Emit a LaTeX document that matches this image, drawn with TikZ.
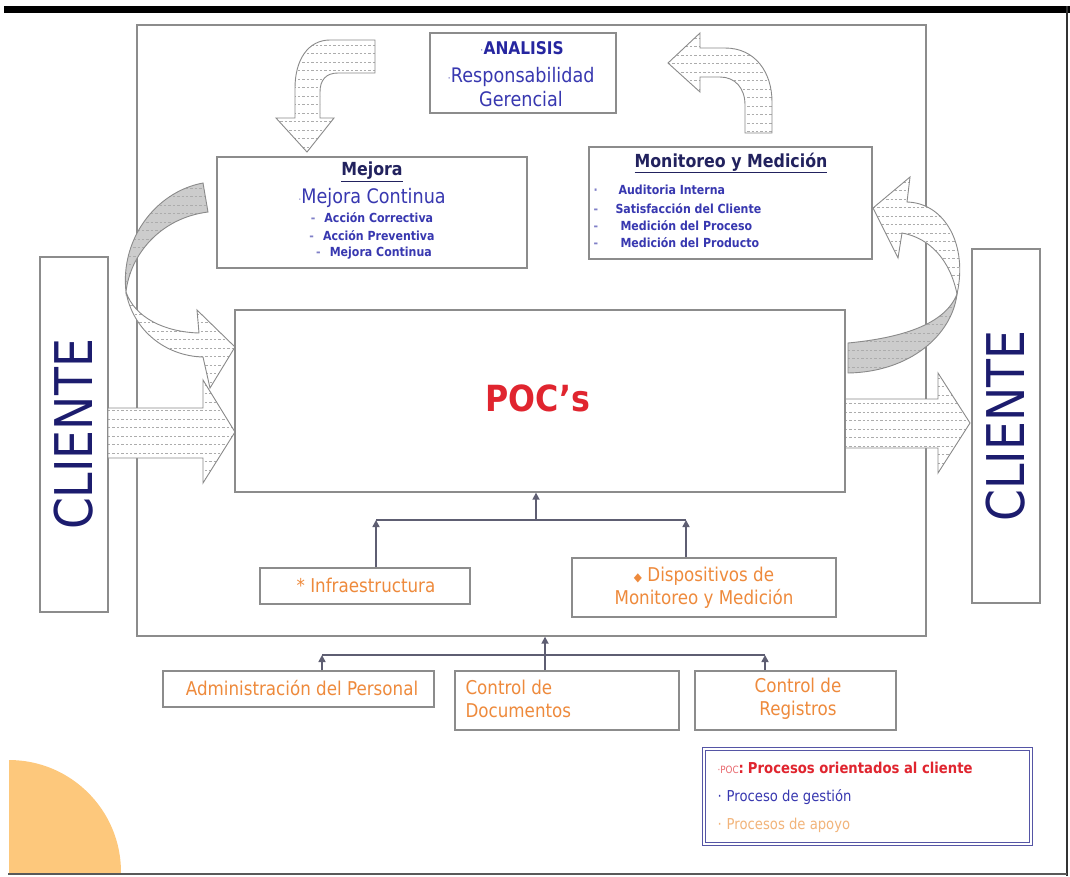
\documentclass[tikz,border=0pt]{standalone}
\usepackage{fontspec}
\setmainfont{DejaVu Sans}[FakeStretch=0.88]
\usetikzlibrary{arrows.meta}

\definecolor{boxgray}{HTML}{8C8C8C}
\definecolor{conngray}{HTML}{5E5E72}
\definecolor{arrowedge}{HTML}{8A8A8A}
\definecolor{navy}{HTML}{1C1C6E}
\definecolor{titlenavy}{HTML}{22225E}
\definecolor{blueA}{HTML}{2626A0}
\definecolor{blueB}{HTML}{3838B0}
\definecolor{bulletblue}{HTML}{8080C8}
\definecolor{pocred}{HTML}{E0252F}
\definecolor{supporange}{HTML}{EE8A3C}
\definecolor{lightorange}{HTML}{F2B47A}
\definecolor{blob}{HTML}{FDC87C}
\definecolor{legendblue}{HTML}{5555A5}

\begin{document}
\begin{tikzpicture}[x=1pt,y=-1pt,
  box/.style={draw=boxgray, line width=1.3pt, fill=white, inner sep=0pt},
  link/.style={draw=conngray, line width=1.6pt},
  conn/.style={link, -{Triangle[length=7pt,width=7pt]}},
  hatchline/.style={draw=gray!65, line width=0.75pt, dash pattern=on 2.4pt off 2pt},
  hatch/.style={fill=#1, draw=arrowedge, line width=0.9pt,
    path picture={\foreach \k in {0,...,30}{
      \draw[hatchline] ([yshift=-\k*8.5pt-5pt]path picture bounding box.north west)
        -- ([yshift=-\k*8.5pt-5pt]path picture bounding box.north east);}}},
  hatch/.default=white,
  orangetxt/.style={text=supporange, font=\fontsize{19}{23}\selectfont},
  subitem/.style={text=blueB, font=\bfseries\fontsize{12.5}{14}\selectfont}
]
\useasboundingbox (0,0) rectangle (1070,876);

% page frame and corner decoration
\begin{scope}
  \clip (9,0) rectangle (1066,873);
  \fill[blob] (9,872) circle (112pt);
\end{scope}
\fill[black] (4,6) rectangle (1070,13);
\draw[black!80, line width=1.5pt] (1067,6) -- (1067,876);
\draw[black!65, line width=1.5pt] (8,874) -- (1067,874);

% organisation boundary
\node[box] (org) at (531.5,330.5) [minimum width=789pt, minimum height=611pt] {};

% clients
\node[box] (clil) at (74,434.5) [minimum width=68pt, minimum height=355pt] {};
\node[box] (clir) at (1006,426) [minimum width=68pt, minimum height=354pt] {};
\node[rotate=90, text=navy, font=\fontsize{52}{52}\selectfont] (clilT) at (clil.center) {CLIENTE};
\node[rotate=90, text=navy, font=\fontsize{52}{52}\selectfont] (clirT) at (clir.center) {CLIENTE};

% block arrows: client in, client out
\path[hatch] (108,408) -- (203,408) -- (203,380) -- (235,432) -- (203,483) -- (203,458) -- (108,458) -- cycle;
\path[hatch] (845,399) -- (938,399) -- (938,373) -- (970,423) -- (938,473) -- (938,448) -- (845,448) -- cycle;

% curved arrow from Mejora down to the processes
\path[hatch=gray!40] (203,183) .. controls (155,192) and (120,240) .. (126,292)
   .. controls (130,255) and (160,218) .. (208,212) -- cycle;
\path[hatch] (126,292) .. controls (133,330) and (165,356) .. (203,357)
   -- (210,388) -- (235,347) -- (197,310) -- (199,333)
   .. controls (165,332) and (135,318) .. (126,292) -- cycle;

% curved arrow from the processes up to Monitoreo
\path[hatch=gray!40] (848,343) .. controls (900,338) and (945,325) .. (957,294)
   .. controls (952,335) and (910,372) .. (848,373) -- cycle;
\path[hatch] (957,294) .. controls (968,245) and (945,203) .. (907,202)
   -- (910,177) -- (873,208) -- (898,258) -- (902,233)
   .. controls (930,238) and (950,260) .. (957,294) -- cycle;

% top arrows around the management box
\path[hatch] (375,40) -- (330,40) .. controls (308,40) and (295,60) .. (295,88) -- (295,118)
   -- (276,118) -- (307,152) -- (334,118) -- (320,118) -- (320,92)
   .. controls (320,80) and (326,73) .. (338,73) -- (375,73) -- cycle;
\path[hatch] (668,63) -- (700,33) -- (700,48) -- (725,48)
   .. controls (755,48) and (772,72) .. (772,102) -- (772,133) -- (745,133) -- (745,105)
   .. controls (745,88) and (735,77) .. (720,77) -- (700,77) -- (700,92) -- cycle;

% management
\node[box] (analisis) at (523,73) [minimum width=186pt, minimum height=80pt] {};
\node[text=blueA, font=\bfseries\fontsize{17.5}{20}\selectfont] (analisisT) at (522,48)
  {{\color{bulletblue}\mdseries\fontsize{12}{12}\selectfont·}ANALISIS};
\node[text=blueB, font=\fontsize{20}{24}\selectfont, align=center] (respT) at (521,87)
  {{\color{bulletblue}\fontsize{12}{12}\selectfont·}Responsabilidad\\Gerencial};

% improvement
\node[box] (mejora) at (372,212.5) [minimum width=310pt, minimum height=111pt] {};
\node[text=titlenavy, font=\bfseries\fontsize{18}{20}\selectfont] (mejoraT) at (372,172) {\underline{Mejora}};
\node[text=blueB, font=\fontsize{20}{22}\selectfont] (mejoraA) at (372,198)
  {{\color{bulletblue}\fontsize{11}{11}\selectfont·}Mejora Continua};
\node[subitem] (mejoraB) at (372,218) {{\color{bulletblue}-}\hspace{9pt}Acción Correctiva};
\node[subitem] (mejoraC) at (372,236) {{\color{bulletblue}-}\hspace{9pt}Acción Preventiva};
\node[subitem] (mejoraD) at (374,253) {{\color{bulletblue}-}\hspace{9pt}Mejora Continua};

% monitoring and measurement
\node[box] (monit) at (730.5,203) [minimum width=283pt, minimum height=112pt] {};
\node[text=titlenavy, font=\bfseries\fontsize{18}{20}\selectfont] (monitT) at (731,163) {\underline{Monitoreo y Medición}};
\node[subitem, anchor=west] (monitA) at (590,190) {\makebox[25pt][l]{\color{bulletblue}·}Auditoria Interna};
\node[subitem, anchor=west] (monitB) at (590,209) {\makebox[22pt][l]{\color{bulletblue}-}Satisfacción del Cliente};
\node[subitem, anchor=west] (monitC) at (590,226) {\makebox[27pt][l]{\color{bulletblue}-}Medición del Proceso};
\node[subitem, anchor=west] (monitD) at (590,243) {\makebox[27pt][l]{\color{bulletblue}-}Medición del Producto};

% customer oriented processes
\node[box] (poc) at (540,401) [minimum width=610pt, minimum height=182pt] {};
\node[text=pocred, font=\bfseries\fontsize{36}{40}\selectfont] (pocT) at (538,398) {POC’s};

% support processes inside the organisation
\node[box] (infra) at (365,586) [minimum width=210pt, minimum height=36pt] {};
\node[orangetxt] (infraT) at (366,585) {* Infraestructura};
\node[box] (disp) at (704,587.5) [minimum width=264pt, minimum height=59pt] {};
\node[orangetxt, align=center] (dispT) at (704,588)
  {{\fontsize{12}{12}\selectfont◆} Dispositivos de\\Monitoreo y Medición};

\coordinate (jl) at (376,520);
\coordinate (jr) at (686,520);
\coordinate (jm) at (536,520);
\draw[conn] ([xshift=11pt]infra.north) -- (jl);
\draw[conn] ([xshift=-18pt]disp.north) -- (jr);
\draw[link] (jl) -- (jr);
\draw[conn] (jm) -- ([xshift=-4pt]poc.south);

% support processes outside
\node[box] (admin) at (298.5,689) [minimum width=271pt, minimum height=36pt] {};
\node[orangetxt] (adminT) at (302,688) {Administración del Personal};
\node[box] (docs) at (567,700.5) [minimum width=224pt, minimum height=59pt] {};
\node[orangetxt, align=left, anchor=west] (docsT) at (462,699) {Control de\\Documentos};
\node[box] (regs) at (795.5,700.5) [minimum width=201pt, minimum height=59pt] {};
\node[orangetxt, align=center] (regsT) at (798,699) {Control de\\Registros};

\coordinate (kl) at (322,655);
\coordinate (kr) at (765,655);
\draw[conn] ([xshift=23.5pt]admin.north) -- (kl);
\draw[conn] ([xshift=-30.5pt]regs.north) -- (kr);
\draw[link] (kl) -- (kr);
\draw[conn] ([xshift=-22pt]docs.north) -- ([xshift=13.5pt]org.south);

% legend
\node[draw=legendblue, line width=1.2pt, double=white, double distance=2pt, fill=white,
      minimum width=327pt, minimum height=95pt] (legend) at (867.5,796.5) {};
\node[anchor=west, text=pocred, font=\bfseries\fontsize{15}{17}\selectfont] (legA) at (714,768)
  {{\mdseries\color{pocred!70}\fontsize{10}{10}\selectfont ·POC}:\hspace{4pt}Procesos orientados al cliente};
\node[anchor=west, text=blueB, font=\fontsize{15}{17}\selectfont] (legB) at (714,797)
  {·\hspace{5pt}Proceso de gestión};
\node[anchor=west, text=lightorange, font=\fontsize{15}{17}\selectfont] (legC) at (714,825)
  {·\hspace{5pt}Procesos de apoyo};
\end{tikzpicture}
\end{document}
